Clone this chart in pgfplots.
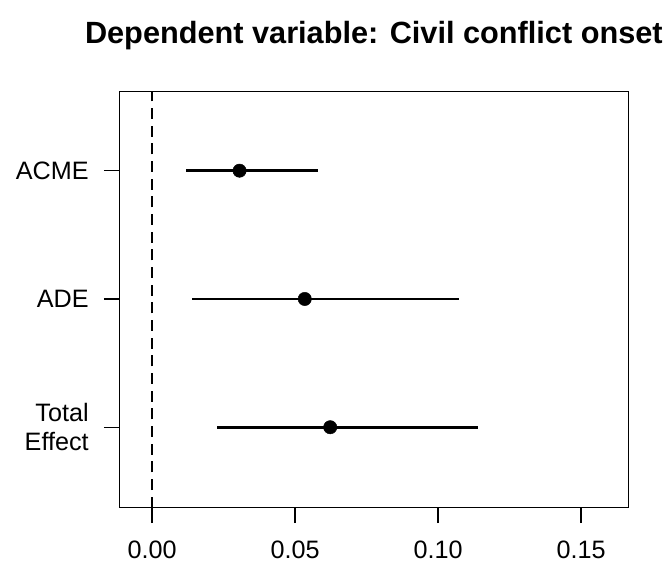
\documentclass[border=0pt]{standalone}
\usepackage{fontspec}
\setmainfont{Liberation Sans}
\usepackage{pgfplots}
\pgfplotsset{compat=1.18}
\usepackage{pgfplotstable}

% point estimates and 95% intervals, rows from top (3) to bottom (1)
\pgfplotstableread{
y est lo hi
3 0.0306 0.0118 0.0580
2 0.0534 0.0140 0.1072
1 0.0623 0.0226 0.1139
}\effects

\begin{document}
\begin{tikzpicture}
\useasboundingbox (-3.58cm,-1.72cm) rectangle (16.43cm,15.23cm);
\begin{axis}[
    at={(0,0)}, anchor=south west,
    scale only axis,
    width=15.27cm, height=12.48cm,
    xmin=-0.01143, xmax=0.16654,
    ymin=0.373, ymax=3.616,
    axis line style={line width=1.1pt},
    tick align=outside,
    major tick length=0.465cm,
    tick style={black, line width=1.1pt},
    xtick={0,0.05,0.1,0.15},
    xticklabels={0.00,0.05,0.10,0.15},
    ytick={1,2,3},
    yticklabels={{Total\\Effect},ADE,ACME},
    yticklabel style={align=right, xshift=-0.33cm,
        font=\fontsize{21.5}{24.5}\selectfont},
    xticklabel style={yshift=-0.4cm, font=\fontsize{21.5}{25}\selectfont},
    xtick pos=bottom, ytick pos=left,
    title={Dependent variable: Civil conflict onset},
    title style={font=\fontsize{26.2}{31}\selectfont\bfseries,
        at={(0.5,1)}, anchor=base, yshift=1.24cm},
    clip=false,
]
\draw[black, line width=1.1pt, dash pattern=on 0.33cm off 0.2cm]
    (axis cs:0,0.373) -- (axis cs:0,3.616);
\addplot[black, only marks, mark=*, mark size=0.2cm,
    error bars/.cd, x dir=both, x explicit, error mark=none,
    error bar style={line width=2.3pt}]
    table[x=est, y=y,
        x error minus expr=\thisrow{est}-\thisrow{lo},
        x error plus expr=\thisrow{hi}-\thisrow{est}] {\effects};
\end{axis}
\end{tikzpicture}
\end{document}
